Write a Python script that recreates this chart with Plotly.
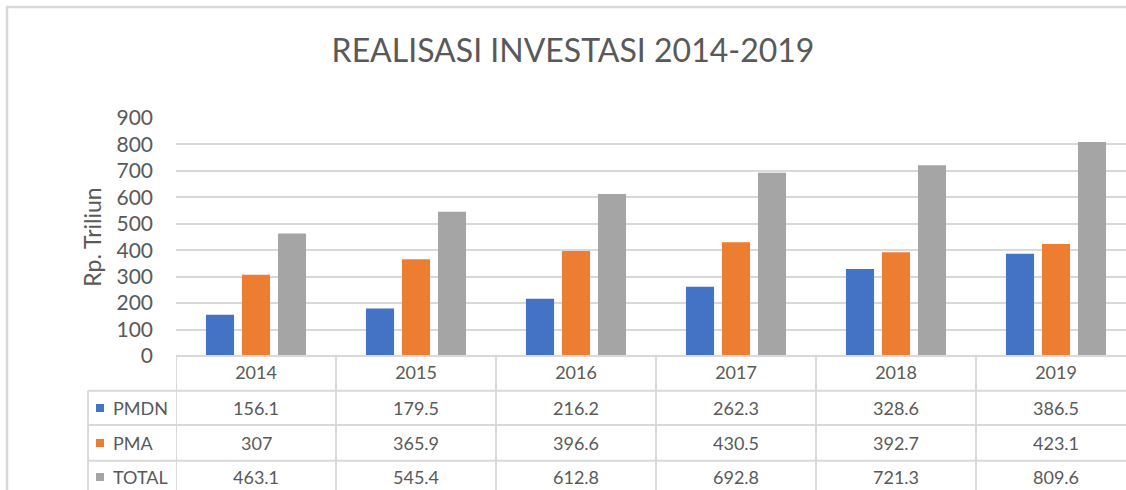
import plotly.graph_objects as go

years = ["2014", "2015", "2016", "2017", "2018", "2019"]
series_names = ["PMDN", "PMA", "TOTAL"]
pmdn = [156.1, 179.5, 216.2, 262.3, 328.6, 386.5]
pma = [307, 365.9, 396.6, 430.5, 392.7, 423.1]
total = [463.1, 545.4, 612.8, 692.8, 721.3, 809.6]
colors = ["#4472c4", "#ed7d31", "#a5a5a5"]
y_ticks = [0, 100, 200, 300, 400, 500, 600, 700, 800, 900]

W, H = 1126, 490
PL, PR, PT, PB = 176, 1126, 118, 356
FONT = "Lato"
TXT = "#595959"
GRID = "#d9d9d9"
TFS = 18


def px(x):
    return (x - PL) / (PR - PL)


def py(y):
    return (PB - y) / (PB - PT)


fig = go.Figure()
for name, vals, col in zip(series_names, [pmdn, pma, total], colors):
    fig.add_trace(go.Bar(x=list(range(len(years))), y=vals, name=name,
                         marker=dict(color=col, line=dict(width=0)),
                         hoverinfo="y"))

shapes = []
def line(x0, y0, x1, y1, w=2, c=GRID):
    shapes.append(dict(type="line", xref="paper", yref="paper",
                       x0=px(x0), y0=py(y0), x1=px(x1), y1=py(y1),
                       line=dict(color=c, width=w)))

# outer chart frame
shapes.append(dict(type="rect", xref="paper", yref="paper",
                   x0=px(7), y0=py(7), x1=px(1140), y1=py(505),
                   line=dict(color=GRID, width=2.5)))

# table grid
row_lines = [356, 390.7, 425, 460.7]
line(PL, 356, 1140, 356)
for yl in row_lines[1:]:
    line(88, yl, 1140, yl)
line(88, 390.7, 88, 500)
for i in range(len(years) + 1):
    xv = i - 0.5
    shapes.append(dict(type="line", xref="x", yref="paper",
                       x0=xv, x1=xv, y0=py(356), y1=py(500),
                       line=dict(color=GRID, width=2)))

annotations = []
row_centers = [408, 443, 477]
for r, (name, vals, col) in enumerate(zip(series_names, [pmdn, pma, total], colors)):
    yc = row_centers[r]
    shapes.append(dict(type="rect", xref="paper", yref="paper",
                       x0=px(96), x1=px(104), y0=py(yc - 4), y1=py(yc + 4),
                       fillcolor=col, line=dict(width=0)))
    annotations.append(dict(text=name, xref="paper", yref="paper",
                            x=px(111), y=py(yc), xanchor="left", yanchor="middle",
                            showarrow=False, font=dict(family=FONT, size=TFS, color=TXT)))
    for i, v in enumerate(vals):
        annotations.append(dict(text=f"{v:g}", xref="x", yref="paper",
                                x=i, y=py(yc), xanchor="center", yanchor="middle",
                                showarrow=False, font=dict(family=FONT, size=TFS, color=TXT)))

fig.update_layout(
    width=W, height=H,
    margin=dict(l=PL, r=W - PR, t=PT, b=H - PB, autoexpand=False),
    paper_bgcolor="white", plot_bgcolor="white",
    showlegend=False,
    barmode="group", bargap=0.325, bargroupgap=0.22,
    title=dict(text="REALISASI INVESTASI 2014-2019", x=573 / W, xanchor="center",
               y=1 - 51 / H, yanchor="middle",
               font=dict(family=FONT, size=32, color=TXT)),
    font=dict(family=FONT, color=TXT),
    shapes=shapes, annotations=annotations,
)
fig.update_xaxes(range=[-0.5, 5.5 - 10 / 160], tickmode="array",
                 tickvals=list(range(len(years))), ticktext=years,
                 showgrid=False, zeroline=False, showline=False,
                 ticks="", tickfont=dict(family=FONT, size=TFS, color=TXT),
                 ticklabelstandoff=4)
fig.update_yaxes(range=[0, 900], tickvals=y_ticks, showgrid=True,
                 gridcolor=GRID, gridwidth=2, zeroline=False, showline=False,
                 ticks="", tickfont=dict(family=FONT, size=21, color=TXT),
                 ticklabelstandoff=22,
                 title=dict(text="Rp. Triliun", standoff=8,
                            font=dict(family=FONT, size=23, color=TXT)))

fig.write_html("out.html", config={"displayModeBar": False},
               post_script="document.body.style.margin='0';document.body.style.overflow='hidden';")
